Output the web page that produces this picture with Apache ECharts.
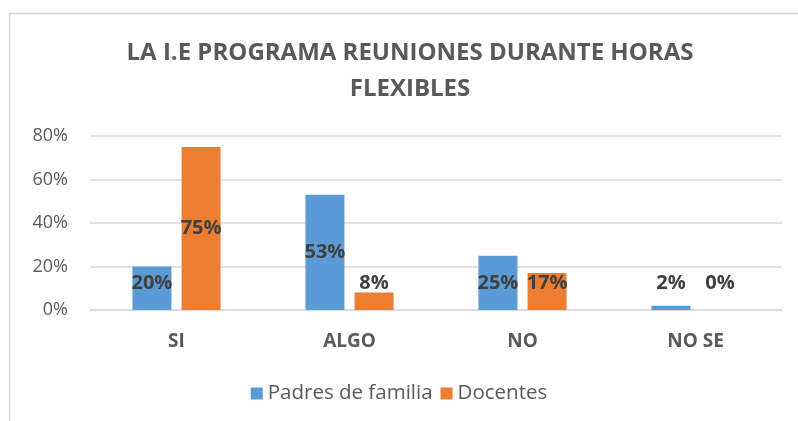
<!DOCTYPE html>
<html>
<head>
<meta charset="utf-8">
<script src="https://cdn.jsdelivr.net/npm/echarts@6/dist/echarts.min.js"></script>
<style>
  html, body { margin: 0; padding: 0; background: #fff; }
  #main { width: 798px; height: 421px; }
</style>
</head>
<body>
<div id="main"></div>
<script>
// datos del grafico
var categorias = ['SI', 'ALGO', 'NO', 'NO SE'];
var padres = [20, 53, 25, 2];
var docentes = [75, 8, 17, 0];
var ticksY = [0, 20, 40, 60, 80];

var fuente = 'Open Sans';

// etiquetas centradas, las barras bajas llevan la etiqueta sobre el eje
function armarDatos(valores) {
  return valores.map(function (v) {
    if (v < 25) {
      return { value: v, label: { position: 'insideBottom', distance: 17 } };
    }
    return { value: v };
  });
}

var chart = echarts.init(document.getElementById('main'));
var option = {
  backgroundColor: '#fff',
  animation: false,
  textStyle: { fontFamily: fuente },
  graphic: [{
    type: 'rect',
    shape: { x: 9.5, y: 13.5, width: 900, height: 500 },
    style: { fill: 'none', stroke: '#d9d9d9', lineWidth: 1.5 },
    silent: true
  }],
  title: {
    text: 'LA I.E PROGRAMA REUNIONES DURANTE HORAS\nFLEXIBLES',
    left: 405,
    textAlign: 'center',
    top: 30,
    textStyle: {
      fontFamily: fuente,
      fontSize: 24,
      fontWeight: 'bold',
      color: '#595959',
      lineHeight: 36
    }
  },
  legend: {
    bottom: 12,
    left: 'center',
    itemWidth: 12,
    itemHeight: 12,
    itemGap: 8,
    icon: 'rect',
    textStyle: { fontFamily: fuente, fontSize: 20.5, color: '#595959' },
    data: ['Padres de familia', 'Docentes']
  },
  grid: { left: 90, right: 16, top: 136, bottom: 111 },
  xAxis: {
    type: 'category',
    data: categorias,
    axisTick: { show: false },
    axisLine: { lineStyle: { color: '#d9d9d9', width: 1.5 } },
    axisLabel: {
      fontFamily: fuente, fontSize: 19, fontWeight: 'bold', color: '#595959', margin: 22
    }
  },
  yAxis: {
    type: 'value',
    min: ticksY[0],
    max: ticksY[ticksY.length - 1],
    interval: 20,
    axisLine: { show: false },
    axisTick: { show: false },
    splitLine: { lineStyle: { color: '#d9d9d9', width: 1.5 } },
    axisLabel: {
      formatter: '{value}%', fontFamily: fuente, fontSize: 18, color: '#595959', margin: 22
    }
  },
  series: [{
    name: 'Padres de familia',
    type: 'bar',
    barWidth: 39,
    barGap: '26%',
    itemStyle: { color: '#5b9bd5' },
    label: {
      show: true, position: 'inside', formatter: '{c}%',
      fontFamily: fuente, fontSize: 20, fontWeight: 'bold', color: '#404040'
    },
    data: armarDatos(padres)
  }, {
    name: 'Docentes',
    type: 'bar',
    barWidth: 39,
    itemStyle: { color: '#ed7d31' },
    label: {
      show: true, position: 'inside', formatter: '{c}%',
      fontFamily: fuente, fontSize: 20, fontWeight: 'bold', color: '#404040'
    },
    data: armarDatos(docentes)
  }]
};
chart.setOption(option);
</script>
</body>
</html>
